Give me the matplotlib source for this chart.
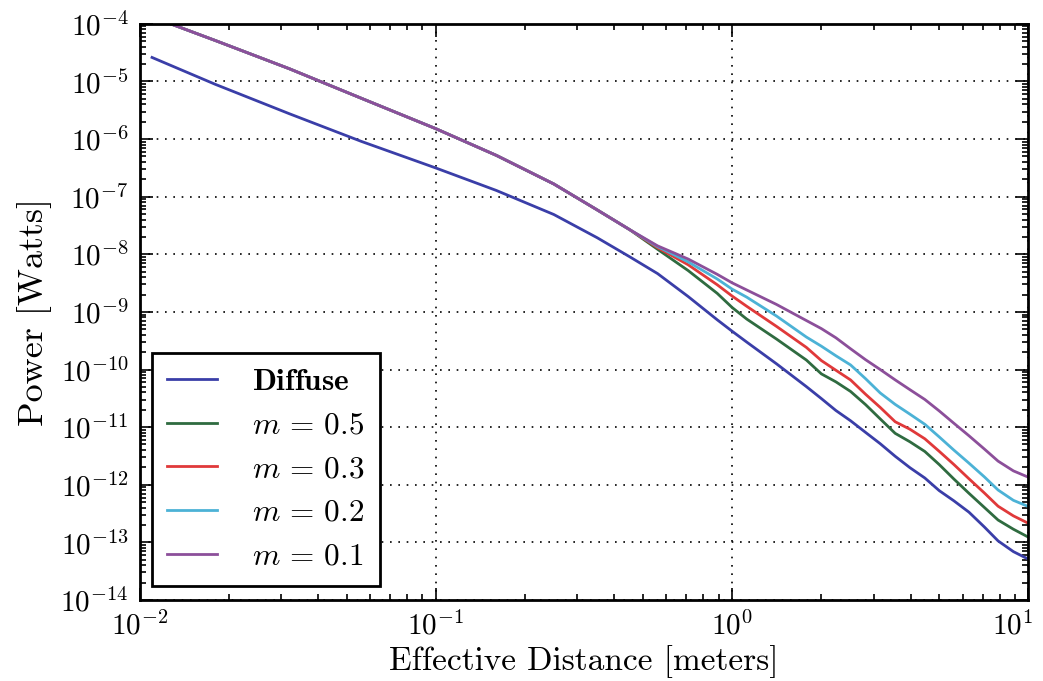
import matplotlib
matplotlib.use("Agg")
import matplotlib.pyplot as plt
from matplotlib.ticker import LogLocator, LogFormatterSciNotation, NullFormatter
from matplotlib.transforms import ScaledTranslation

# Effective distance samples [m]
distance = [0.011, 0.018, 0.032, 0.056, 0.1, 0.16, 0.25, 0.35, 0.45, 0.56,
            0.71, 0.89, 1.0, 1.12, 1.41, 1.78, 2.0, 2.24, 2.51, 2.82, 3.16,
            3.55, 3.98, 4.47, 5.0, 5.6, 6.3, 7.1, 7.9, 8.9, 10.0]

# Received power [W]
diffuse = [2.61e-5, 8.9e-6, 2.75e-6, 9.1e-7, 3.14e-7, 1.28e-7, 4.9e-8, 1.94e-8,
           9.1e-9, 4.62e-9, 1.85e-9, 7.3e-10, 4.61e-10, 2.99e-10, 1.26e-10,
           5.05e-11, 3.13e-11, 1.94e-11, 1.29e-11, 8.1e-12, 5.16e-12, 3.12e-12,
           1.98e-12, 1.31e-12, 7.9e-13, 5.27e-13, 3.34e-13, 1.85e-13, 1.06e-13,
           6.9e-14, 5.1e-14]

# Near field: the specular curves coincide up to ~0.45 m
near = [1.32e-4, 5.13e-5, 1.66e-5, 5.1e-6, 1.51e-6, 5.2e-7, 1.66e-7, 5.9e-8, 2.69e-8]

m05 = near + [1.22e-8, 5.22e-9, 2.10e-9, 1.19e-9, 7.5e-10, 3.39e-10, 1.46e-10,
              8.4e-11, 6.1e-11, 4.16e-11, 2.46e-11, 1.39e-11, 7.8e-12, 5.57e-12,
              3.78e-12, 2.24e-12, 1.26e-12, 7.1e-13, 4.04e-13, 2.44e-13, 1.69e-13,
              1.23e-13]
m03 = near + [1.30e-8, 6.58e-9, 2.96e-9, 1.88e-9, 1.25e-9, 5.62e-10, 2.42e-10,
              1.43e-10, 9.7e-11, 6.59e-11, 3.72e-11, 2.20e-11, 1.24e-11, 9.2e-12,
              6.28e-12, 3.80e-12, 2.25e-12, 1.27e-12, 7.2e-13, 4.24e-13, 2.88e-13,
              2.14e-13]
m02 = near + [1.36e-8, 7.38e-9, 3.73e-9, 2.48e-9, 1.80e-9, 8.5e-10, 3.66e-10,
              2.54e-10, 1.73e-10, 1.20e-10, 6.93e-11, 3.92e-11, 2.48e-11, 1.68e-11,
              1.12e-11, 6.76e-12, 4.0e-12, 2.37e-12, 1.37e-12, 8.1e-13, 5.36e-13,
              4.18e-13]
m01 = near + [1.40e-8, 8.28e-9, 4.49e-9, 3.19e-9, 2.40e-9, 1.35e-9, 7.08e-10,
              5.13e-10, 3.55e-10, 2.29e-10, 1.48e-10, 1.0e-10, 6.61e-11, 4.47e-11,
              3.02e-11, 1.91e-11, 1.17e-11, 7.08e-12, 4.17e-12, 2.57e-12, 1.74e-12,
              1.35e-12]

series = [
    (diffuse, r"$\mathbf{Diffuse}$", "#3a3ea8"),
    (m05, r"$m\,=\,0.5$", "#2f6b40"),
    (m03, r"$m\,=\,0.3$", "#e0393a"),
    (m02, r"$m\,=\,0.2$", "#4cb2d6"),
    (m01, r"$m\,=\,0.1$", "#8c4f9a"),
]

plt.rcParams.update({
    "font.family": "serif",
    "font.serif": ["cmr10", "DejaVu Serif"],
    "mathtext.fontset": "cm",
    "axes.formatter.use_mathtext": True,
    "axes.unicode_minus": True,
})

fig = plt.figure(figsize=(10.43, 6.81), dpi=100)
ax = fig.add_axes([0.134, 0.119, 0.852, 0.846])

for values, label, color in series:
    ax.plot(distance, values, color=color, lw=2.0, label=label)

ax.set_xscale("log")
ax.set_yscale("log")
ax.set_xlim(1e-2, 1e1)
ax.set_ylim(1e-14, 1e-4)

ax.xaxis.set_major_locator(LogLocator(base=10, numticks=10))
ax.yaxis.set_major_locator(LogLocator(base=10, numticks=20))
ax.xaxis.set_minor_locator(LogLocator(base=10, subs=range(2, 10), numticks=20))
ax.yaxis.set_minor_locator(LogLocator(base=10, subs=range(2, 10), numticks=40))
ax.xaxis.set_major_formatter(LogFormatterSciNotation())
ax.yaxis.set_major_formatter(LogFormatterSciNotation())
ax.xaxis.set_minor_formatter(NullFormatter())
ax.yaxis.set_minor_formatter(NullFormatter())

ax.tick_params(which="both", direction="in", top=True, right=True,
               labelsize=21, color="black", width=1.2)
ax.tick_params(which="major", length=9, pad=8)
ax.tick_params(which="minor", length=4.5)

ax.grid(True, which="major", linestyle=(0, (1, 4)), color="black", lw=1.2)
for sp in ax.spines.values():
    sp.set_linewidth(2.0)

ax.set_xlabel("Effective Distance [meters]", fontsize=24, labelpad=3)
ax.set_ylabel("Power [Watts]", fontsize=26, labelpad=6)

leg = ax.legend(loc="lower left", bbox_to_anchor=(0.0135, 0.024), borderaxespad=0,
                fontsize=22.5, frameon=True, fancybox=False, framealpha=1,
                edgecolor="black", handlelength=1.6, handletextpad=1.1,
                labelspacing=0.5, borderpad=0.5)
leg.get_frame().set_linewidth(2.0)

# Nudge the rightmost x tick label inward so it stays on the canvas
fig.canvas.draw()
for tick in ax.xaxis.get_major_ticks():
    if abs(tick.get_loc() - 10.0) < 1e-9:
        lbl = tick.label1
        lbl.set_transform(lbl.get_transform()
                          + ScaledTranslation(-0.16, 0, fig.dpi_scale_trans))

fig.savefig("out.png", dpi=100, facecolor="white")
